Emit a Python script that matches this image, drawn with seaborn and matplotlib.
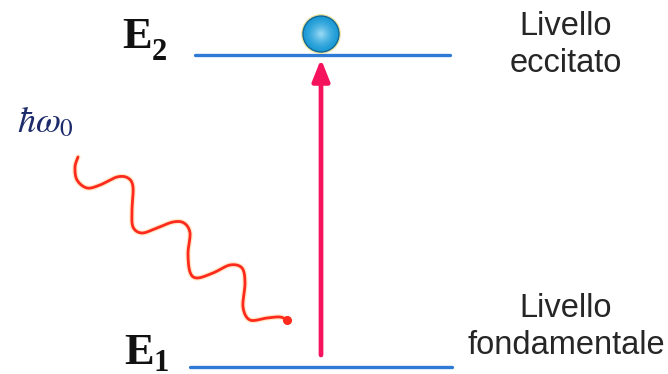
import numpy as np
import pandas as pd
import matplotlib
matplotlib.use("Agg")
import matplotlib.pyplot as plt
import seaborn as sns
from matplotlib.patches import Circle, FancyArrowPatch

# Two-level atom: absorption of a photon hbar*omega_0 lifts the electron E1 -> E2
level_names = ["E1", "E2"]
level_y = [367, 55]            # vertical position of each level (px, top = 0)
level_x0 = [190, 195]
level_x1 = [452, 450]
level_labels = ["Livello\nfondamentale", "Livello\neccitato"]
level_label_y = [327, 45]

# photon path (wavy line) waypoints
photon_x = [78, 75, 77, 87, 100, 117, 128, 133, 132, 133, 142, 157, 173, 184,
            190, 188, 190, 197, 213, 230, 242, 245, 243, 250, 267, 280, 287]
photon_y = [157, 167, 180, 188, 185, 177, 178, 187, 210, 227, 233, 228, 222, 223,
            233, 253, 272, 278, 273, 265, 268, 283, 307, 320, 318, 317, 320]

transition_x = 321
transition_from = 355
transition_to = 59
electron_xy = (321, 34)
electron_r = 18

BLUE = "#2f7ad6"
PINK = "#f5135e"
PHOTON = "#ff2a1e"


def catmull_rom(xs, ys, n=12):
    p = np.column_stack([xs, ys]).astype(float)
    p = np.vstack([p[0], p, p[-1]])
    out = []
    for i in range(1, len(p) - 2):
        p0, p1, p2, p3 = p[i - 1], p[i], p[i + 1], p[i + 2]
        t = np.linspace(0, 1, n, endpoint=False)[:, None]
        seg = 0.5 * ((2 * p1) + (-p0 + p2) * t + (2 * p0 - 5 * p1 + 4 * p2 - p3) * t ** 2
                     + (-p0 + 3 * p1 - 3 * p2 + p3) * t ** 3)
        out.append(seg)
    out.append(p[-2][None, :])
    return np.vstack(out)


sns.set_theme(style="white")
plt.rcParams["mathtext.fontset"] = "stix"
fig = plt.figure(figsize=(6.68, 3.74), dpi=100)
ax = fig.add_axes([0, 0, 1, 1])
ax.set_xlim(0, 668)
ax.set_ylim(374, 0)
ax.axis("off")

# energy levels
levels = pd.DataFrame({
    "x": [v for pair in zip(level_x0, level_x1) for v in pair],
    "y": [v for y in level_y for v in (y, y)],
    "level": [n for n in level_names for _ in (0, 1)],
})
sns.lineplot(data=levels, x="x", y="y", units="level", estimator=None,
             color=BLUE, linewidth=2.4, sort=False, ax=ax, legend=False)

# photon
path = catmull_rom(photon_x, photon_y)
photon = pd.DataFrame({"x": path[:, 0], "y": path[:, 1]})
sns.lineplot(data=photon, x="x", y="y", color="#ffd9a0", linewidth=3.8,
             sort=False, estimator=None, ax=ax, alpha=0.6)
sns.lineplot(data=photon, x="x", y="y", color=PHOTON, linewidth=2.0,
             sort=False, estimator=None, ax=ax)
ax.plot([photon_x[-1]], [photon_y[-1]], "o", color=PHOTON, markersize=5.5)

# transition arrow
ax.add_patch(FancyArrowPatch((transition_x, transition_from), (transition_x, transition_to),
                             arrowstyle="-|>,head_length=13,head_width=5.2",
                             mutation_scale=1, color=PINK, linewidth=3.4,
                             shrinkA=0, shrinkB=0))

# electron (radial shading built from concentric discs)
cx, cy = electron_xy
ax.add_patch(Circle((cx, cy), electron_r + 1.2, color="#efe3a0", zorder=5))
ax.add_patch(Circle((cx, cy), electron_r, color="#136a98", zorder=6))
inner = np.array([0x1b, 0x9a, 0xd6]) / 255
core = np.array([0x9c, 0xdc, 0xf6]) / 255
for k in np.linspace(0.92, 0.08, 24):
    f = (1 - k) ** 1.6
    col = inner * (1 - f) + core * f
    ax.add_patch(Circle((cx, cy), electron_r * k, color=col, zorder=7))

# level symbols
serif = ["Liberation Serif", "DejaVu Serif"]
ax.text(122, 48, "E", fontsize=32, fontweight="bold", family=serif, color="#111111",
        ha="left", va="baseline")
ax.text(152, 60, "2", fontsize=22, fontweight="bold", family=serif, color="#111111",
        ha="left", va="baseline")
ax.text(124, 364, "E", fontsize=32, fontweight="bold", family=serif, color="#111111",
        ha="left", va="baseline")
ax.text(153, 371, "1", fontsize=22, fontweight="bold", family=serif, color="#111111",
        ha="left", va="baseline")

# photon energy
ax.text(17, 132, r"$\hbar\omega_0$", fontsize=26, color="#1d2b6b", ha="left", va="baseline")

# level descriptions
for lab, y in zip(level_labels, level_label_y):
    ax.text(566, y, lab, fontsize=23.5, family=["Liberation Sans", "DejaVu Sans"],
            color="#262626", ha="center", va="center", linespacing=1.28)

fig.savefig("out.png", dpi=100)
